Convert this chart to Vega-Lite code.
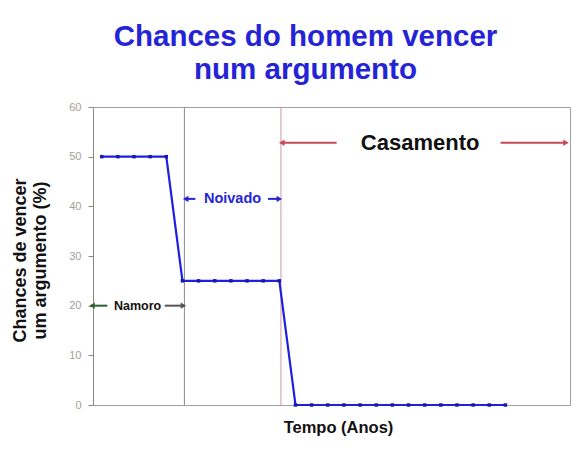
{
  "$schema": "https://vega.github.io/schema/vega-lite/v6.json",
  "autosize": "none",
  "width": 477,
  "height": 298,
  "padding": {"left": 93, "top": 107, "right": 14, "bottom": 54},
  "background": "white",
  "config": {
    "font": "Liberation Sans",
    "view": {"stroke": "#a0a0a0", "strokeWidth": 1}
  },
  "title": {
    "text": ["Chances do homem vencer", "num argumento"],
    "anchor": "middle",
    "frame": "group",
    "dx": -26,
    "offset": 16,
    "fontSize": 29.5,
    "lineHeight": 33,
    "fontWeight": "bold",
    "color": "#2424d6"
  },
  "datasets": {
    "chances": [
      {"t": 0, "chance": 50}, {"t": 1, "chance": 50}, {"t": 2, "chance": 50},
      {"t": 3, "chance": 50}, {"t": 4, "chance": 50},
      {"t": 5, "chance": 25}, {"t": 6, "chance": 25}, {"t": 7, "chance": 25},
      {"t": 8, "chance": 25}, {"t": 9, "chance": 25}, {"t": 10, "chance": 25},
      {"t": 11, "chance": 25},
      {"t": 12, "chance": 0}, {"t": 13, "chance": 0}, {"t": 14, "chance": 0},
      {"t": 15, "chance": 0}, {"t": 16, "chance": 0}, {"t": 17, "chance": 0},
      {"t": 18, "chance": 0}, {"t": 19, "chance": 0}, {"t": 20, "chance": 0},
      {"t": 21, "chance": 0}, {"t": 22, "chance": 0}, {"t": 23, "chance": 0},
      {"t": 24, "chance": 0}, {"t": 25, "chance": 0}
    ],
    "setas": [
      {"seta": "namoro-esq", "de": -0.6, "ate": 0.35, "y": 20, "dir": "esq"},
      {"seta": "namoro-dir", "de": 3.9, "ate": 5.06, "y": 20, "dir": "dir"},
      {"seta": "noivado-esq", "de": 5.2, "ate": 5.8, "y": 41.5, "dir": "esq"},
      {"seta": "noivado-dir", "de": 10.3, "ate": 11.0, "y": 41.5, "dir": "dir"},
      {"seta": "casamento-esq", "de": 11.15, "ate": 14.55, "y": 52.8, "dir": "esq"},
      {"seta": "casamento-dir", "de": 24.7, "ate": 28.75, "y": 52.8, "dir": "dir"}
    ]
  },
  "encoding": {
    "x": {
      "type": "quantitative",
      "scale": {"domain": [-0.54, 29.0], "nice": false, "zero": false},
      "axis": {
        "title": "Tempo (Anos)",
        "titleFontSize": 16.5,
        "titleFontWeight": "bold",
        "titleColor": "#111",
        "titleX": 245,
        "titleY": 14,
        "labels": false,
        "ticks": false,
        "grid": false,
        "domainColor": "#a0a0a0"
      }
    },
    "y": {
      "type": "quantitative",
      "scale": {"domain": [0, 60], "nice": false},
      "axis": {
        "title": ["Chances de vencer", "um argumento (%)"],
        "titleFontSize": 18,
        "titleFontWeight": "bold",
        "titleColor": "#111",
        "titleLineHeight": 20,
        "titleAngle": -90,
        "titleAlign": "center",
        "titleBaseline": "top",
        "titleX": -82,
        "titleY": 153,
        "values": [0, 10, 20, 30, 40, 50, 60],
        "grid": false,
        "labelColor": "#a0a0a0",
        "labelFontSize": 11,
        "labelPadding": 7,
        "tickColor": "#888",
        "tickSize": 5,
        "domainColor": "#888"
      }
    }
  },
  "layer": [
    {
      "data": {"values": [{"t": 5.12}]},
      "mark": {"type": "rule", "color": "#888", "strokeWidth": 1},
      "encoding": {"x": {"field": "t", "type": "quantitative"}}
    },
    {
      "data": {"values": [{"t": 11.1}]},
      "mark": {"type": "rule", "color": "#cf98a0", "strokeWidth": 1},
      "encoding": {"x": {"field": "t", "type": "quantitative"}}
    },
    {
      "data": {"name": "setas"},
      "mark": {"type": "rule", "strokeWidth": 2},
      "encoding": {
        "x": {"field": "de", "type": "quantitative"},
        "x2": {"field": "ate"},
        "y": {"field": "y", "type": "quantitative"},
        "color": {
          "field": "seta",
          "type": "nominal",
          "legend": null,
          "scale": {
            "domain": ["namoro-esq", "namoro-dir", "noivado-esq", "noivado-dir", "casamento-esq", "casamento-dir"],
            "range": ["#2f5e2f", "#555555", "#2424d6", "#2424d6", "#c8485a", "#c8485a"]
          }
        },
        "strokeWidth": {
          "field": "seta",
          "type": "nominal",
          "legend": null,
          "scale": {
            "domain": ["namoro-esq", "namoro-dir", "noivado-esq", "noivado-dir", "casamento-esq", "casamento-dir"],
            "range": [1.5, 1, 2, 2, 2.5, 2.5]
          }
        }
      }
    },
    {
      "data": {"name": "setas"},
      "transform": [
        {"filter": "datum.dir == 'esq'"}
      ],
      "mark": {"type": "point", "shape": "triangle-left", "filled": true, "opacity": 1, "size": 40},
      "encoding": {
        "x": {"field": "de", "type": "quantitative"},
        "y": {"field": "y", "type": "quantitative"},
        "color": {"field": "seta", "type": "nominal", "legend": null}
      }
    },
    {
      "data": {"name": "setas"},
      "transform": [
        {"filter": "datum.dir == 'dir'"}
      ],
      "mark": {"type": "point", "shape": "triangle-right", "filled": true, "opacity": 1, "size": 40},
      "encoding": {
        "x": {"field": "ate", "type": "quantitative"},
        "y": {"field": "y", "type": "quantitative"},
        "color": {"field": "seta", "type": "nominal", "legend": null}
      }
    },
    {
      "data": {"name": "chances"},
      "mark": {"type": "line", "color": "#1f1fe0", "strokeWidth": 2.2},
      "encoding": {
        "x": {"field": "t", "type": "quantitative"},
        "y": {"field": "chance", "type": "quantitative"}
      }
    },
    {
      "data": {"name": "chances"},
      "mark": {"type": "point", "shape": "square", "filled": true, "opacity": 1, "size": 12, "color": "#1818a8"},
      "encoding": {
        "x": {"field": "t", "type": "quantitative"},
        "y": {"field": "chance", "type": "quantitative"}
      }
    },
    {
      "data": {"values": [{"rotulo": "Namoro", "t": 2.22, "y": 20}]},
      "mark": {"type": "text", "fontSize": 12.5, "fontWeight": "bold", "color": "#111"},
      "encoding": {
        "x": {"field": "t", "type": "quantitative"},
        "y": {"field": "y", "type": "quantitative"},
        "text": {"field": "rotulo"}
      }
    },
    {
      "data": {"values": [{"rotulo": "Noivado", "t": 8.1, "y": 41.5}]},
      "mark": {"type": "text", "fontSize": 14.5, "fontWeight": "bold", "color": "#2424d6"},
      "encoding": {
        "x": {"field": "t", "type": "quantitative"},
        "y": {"field": "y", "type": "quantitative"},
        "text": {"field": "rotulo"}
      }
    },
    {
      "data": {"values": [{"rotulo": "Casamento", "t": 19.72, "y": 52.8}]},
      "mark": {"type": "text", "fontSize": 22, "fontWeight": "bold", "color": "#111"},
      "encoding": {
        "x": {"field": "t", "type": "quantitative"},
        "y": {"field": "y", "type": "quantitative"},
        "text": {"field": "rotulo"}
      }
    }
  ]
}
